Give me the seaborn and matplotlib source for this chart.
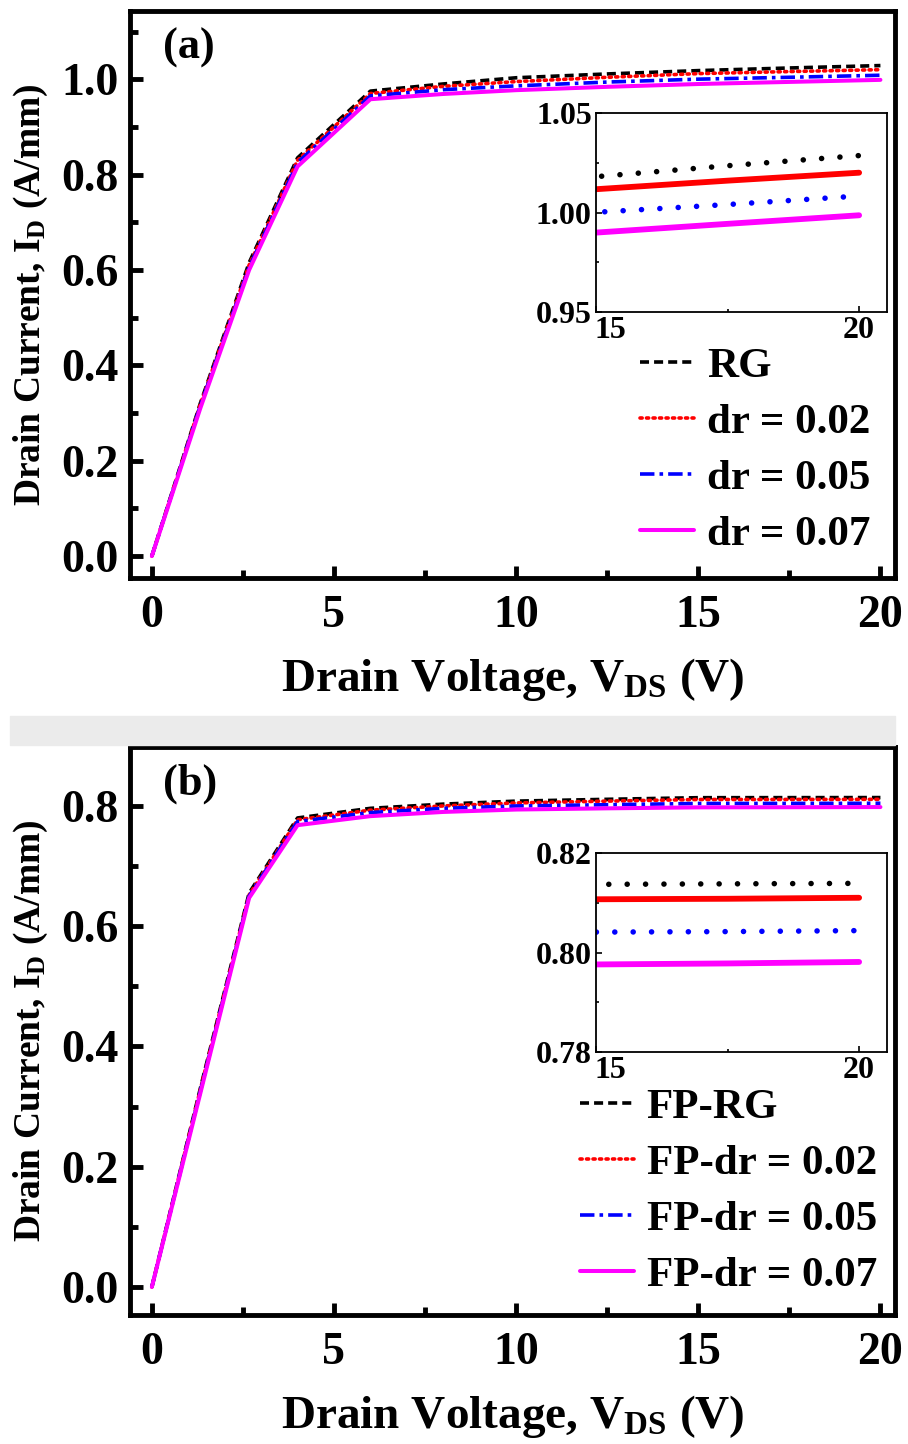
import numpy as np
import pandas as pd
import matplotlib
matplotlib.use("Agg")
import matplotlib.pyplot as plt
import matplotlib.transforms as mtransforms
import seaborn as sns
from matplotlib.ticker import MultipleLocator

# ---------------- data ----------------
vds = [0, 1.33, 2.67, 4, 6, 8, 10, 12.5, 15, 17.5, 20]

a_rg   = [0, 0.320, 0.615, 0.835, 0.975, 0.990, 1.003, 1.011, 1.0180, 1.0235, 1.0286]
a_d002 = [0, 0.318, 0.610, 0.830, 0.970, 0.985, 0.995, 1.004, 1.0117, 1.0160, 1.0200]
a_d005 = [0, 0.315, 0.605, 0.825, 0.965, 0.978, 0.986, 0.994, 1.0001, 1.0040, 1.0083]
a_d007 = [0, 0.310, 0.600, 0.817, 0.958, 0.969, 0.977, 0.984, 0.9899, 0.9943, 0.9986]

b_rg   = [0, 0.330, 0.655, 0.780, 0.796, 0.803, 0.808, 0.811, 0.8137, 0.8138, 0.8139]
b_d002 = [0, 0.328, 0.652, 0.777, 0.793, 0.800, 0.805, 0.808, 0.8107, 0.8108, 0.8110]
b_d005 = [0, 0.325, 0.650, 0.774, 0.789, 0.796, 0.800, 0.802, 0.8041, 0.8042, 0.8044]
b_d007 = [0, 0.322, 0.647, 0.768, 0.783, 0.790, 0.794, 0.796, 0.7976, 0.7978, 0.7981]

labels_a = ["RG", "dr = 0.02", "dr = 0.05", "dr = 0.07"]
labels_b = ["FP-RG", "FP-dr = 0.02", "FP-dr = 0.05", "FP-dr = 0.07"]
colors = ["#000000", "#ff0000", "#0000ff", "#ff00ff"]

# ---------------- style ----------------
sns.set_theme(style="ticks")
plt.rcParams["font.family"] = ["Liberation Serif", "DejaVu Serif"]
plt.rcParams["font.weight"] = "bold"
plt.rcParams["mathtext.fontset"] = "custom"
plt.rcParams["mathtext.rm"] = "Liberation Serif:bold"
plt.rcParams["mathtext.bf"] = "Liberation Serif:bold"
plt.rcParams["mathtext.it"] = "Liberation Serif:bold"
for k in ["text.color", "axes.edgecolor", "axes.labelcolor",
          "xtick.color", "ytick.color"]:
    plt.rcParams[k] = "black"
plt.rcParams["axes.linewidth"] = 3.5

main_styles = [
    dict(linestyle=(0, (2.5, 1.4)), linewidth=2.6),
    dict(linestyle=(0, (0.6, 1.2)), linewidth=2.6, dash_capstyle="round"),
    dict(linestyle=(0, (4, 1.4, 1, 1.4)), linewidth=2.6),
    dict(linestyle="-", linewidth=2.9),
]
inset_styles = [
    dict(linestyle=(0, (0.01, 3.3)), linewidth=4.0, dash_capstyle="round"),
    dict(linestyle="-", linewidth=4.2),
    dict(linestyle=(0, (0.01, 3.3)), linewidth=4.0, dash_capstyle="round"),
    dict(linestyle="-", linewidth=4.2),
]

fig = plt.figure(figsize=(9.08, 14.44), dpi=100)
W, H = 908.0, 1444.0

# faint watermark band between the panels
fig.patches.append(plt.Rectangle((10 / W, (H - 745) / H), 885 / W, 29 / H,
                                 transform=fig.transFigure, color="#ebebeb",
                                 zorder=0))


def fbox(l, t, r, b):
    return [l / W, (H - b) / H, (r - l) / W, (b - t) / H]


def style_main(ax, ylim, ymaj, ymin):
    ax.set_xlim(-0.6, 20.4)
    ax.set_ylim(*ylim)
    ax.xaxis.set_major_locator(MultipleLocator(5))
    ax.xaxis.set_minor_locator(MultipleLocator(2.5))
    ax.yaxis.set_major_locator(MultipleLocator(ymaj))
    ax.yaxis.set_minor_locator(MultipleLocator(ymin))
    ax.tick_params(which="major", direction="in", length=9, width=3.5,
                   labelsize=33, top=False, right=False)
    ax.tick_params(which="minor", direction="in", length=6, width=3.5,
                   top=False, right=False)
    ax.tick_params(axis="x", which="major", pad=12)
    ax.tick_params(axis="y", which="major", pad=8)
    ax.yaxis.set_major_formatter(matplotlib.ticker.FormatStrFormatter("%.1f"))
    for lab in ax.get_xticklabels() + ax.get_yticklabels():
        lab.set_fontweight("bold")
    for s in ax.spines.values():
        s.set_linewidth(3.5)
    ax.set_xlabel(r"Drain Voltage, V$_{\rm DS}$ (V)", fontsize=34,
                  fontweight="bold", labelpad=14)
    ax.set_ylabel(r"Drain Current, I$_{\rm D}$ (A/mm)", fontsize=27,
                  fontweight="bold", labelpad=8)


def style_inset(ax, ylim, yticks, yminor, fmt):
    ax.set_xlim(15, 20.53)
    ax.set_ylim(*ylim)
    ax.set_xticks([15, 20])
    ax.set_yticks(yticks)
    ax.xaxis.set_minor_locator(MultipleLocator(2.5))
    ax.yaxis.set_minor_locator(MultipleLocator(yminor))
    ax.tick_params(which="major", direction="in", length=4, width=1.2,
                   labelsize=23, top=False, right=False, pad=3)
    ax.tick_params(which="minor", direction="in", length=2.5, width=1.2,
                   top=False, right=False)
    ax.yaxis.set_major_formatter(matplotlib.ticker.FormatStrFormatter(fmt))
    for s in ax.spines.values():
        s.set_linewidth(1.3)
    ax.set_xlabel("")
    ax.set_ylabel("")
    fig.canvas.draw()
    xl = ax.get_xticklabels()
    for lab in xl + ax.get_yticklabels():
        lab.set_fontweight("bold")
    # first x label sits just right of the corner, as in the reference
    off = mtransforms.ScaledTranslation(10 / 72, 0, fig.dpi_scale_trans)
    xl[0].set_transform(xl[0].get_transform() + off)


def draw_panel(box, inbox, series, labels, ylim, ymaj, ymin, inylim, inticks,
               inminor, infmt, tag, legpos):
    ax = fig.add_axes(fbox(*box))
    for yv, lab, col, st in zip(series, labels, colors, main_styles):
        sns.lineplot(x=vds, y=yv, ax=ax, color=col, label=lab, **st)
    style_main(ax, ylim, ymaj, ymin)
    ax.text(0.043, 0.935, tag, transform=ax.transAxes, fontsize=32,
            fontweight="bold", ha="left", va="center")
    leg = ax.legend(loc="upper left", bbox_to_anchor=legpos, frameon=False,
                    fontsize=31, handlelength=1.25, handletextpad=0.3,
                    labelspacing=0.39, borderpad=0, borderaxespad=0)
    for t in leg.get_texts():
        t.set_fontweight("bold")

    axi = fig.add_axes(fbox(*inbox))
    for yv, col, st in zip(series, colors, inset_styles):
        sns.lineplot(x=vds, y=yv, ax=axi, color=col, legend=False, **st)
    style_inset(axi, inylim, inticks, inminor, infmt)
    return ax, axi


draw_panel((130, 11, 895, 578), (596, 113, 887, 312),
           [a_rg, a_d002, a_d005, a_d007], labels_a,
           (-0.046, 1.143), 0.2, 0.1,
           (0.95, 1.05), [0.95, 1.00, 1.05], 0.025, "%.2f",
           "(a)", (0.667, 0.408))

draw_panel((130, 747, 895, 1315), (596, 853, 887, 1052),
           [b_rg, b_d002, b_d005, b_d007], labels_b,
           (-0.0466, 0.898), 0.2, 0.1,
           (0.78, 0.82), [0.78, 0.80, 0.82], 0.01, "%.2f",
           "(b)", (0.588, 0.40))

fig.savefig("out.png", dpi=100)
